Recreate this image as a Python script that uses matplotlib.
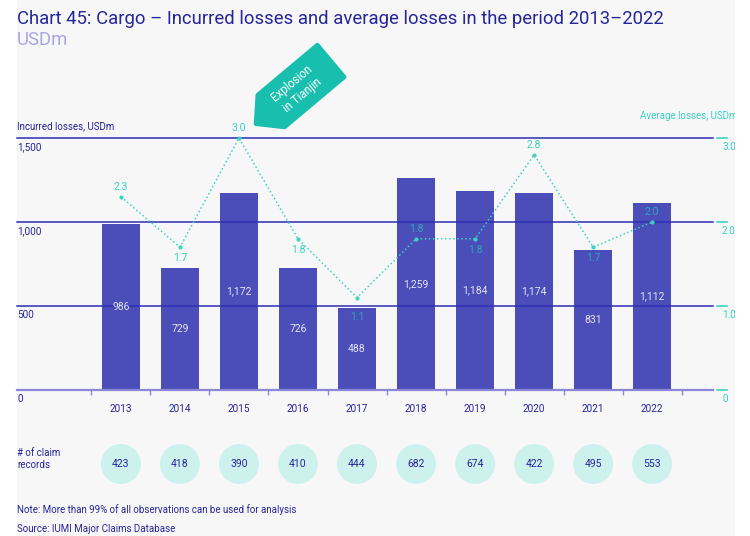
import numpy as np
import matplotlib
matplotlib.use('Agg')
import matplotlib.pyplot as plt
from matplotlib.patches import Polygon, Rectangle
from matplotlib.transforms import Affine2D, blended_transform_factory

plt.rcParams['font.family'] = ['Roboto', 'DejaVu Sans']

# data
years = ['2013', '2014', '2015', '2016', '2017', '2018', '2019', '2020', '2021', '2022']
incurred = [986, 729, 1172, 726, 488, 1259, 1184, 1174, 831, 1112]
avg_loss = [2.3, 1.7, 3.0, 1.8, 1.1, 1.8, 1.8, 2.8, 1.7, 2.0]
avg_above = [True, False, True, False, False, True, False, True, False, True]
claims = [423, 418, 390, 410, 444, 682, 674, 422, 495, 553]
left_ticks = [0, 500, 1000, 1500]
right_ticks = [0, 1, 2, 3]
right_labels = ['0', '1.0', '2.0', '3.0']

# colours
dark = '#25259A'
lav = '#A9A5E2'
bar_c = '#4B4DB8'
grid_c = '#2E2EB5'
base_c = '#8C88D8'
teal = '#3DD3C3'
teal_txt = '#3AD0BF'
teal_on_bar = '#2AAAB8'
tag_c = '#18BFAE'
circle_c = '#CDF2EE'
panel = '#F7F7F7'

W, H = 750, 536
fig = plt.figure(figsize=(W / 100, H / 100), dpi=100)
fig.patch.set_facecolor('white')
fig.add_artist(Rectangle((17 / W, 0), (735 - 17) / W, 1, transform=fig.transFigure,
                         facecolor=panel, edgecolor='none', zorder=-10))

x = np.arange(len(years))
xlim = (-1.76, 10.03)

ax = fig.add_axes([17 / W, 1 - 390 / H, 696 / W, 252 / H])
ax.set_facecolor('none')
for s in ax.spines.values():
    s.set_visible(False)
ax.set_xlim(*xlim)
ax.set_ylim(0, 1500)
ax.bar(x, incurred, width=0.64, color=bar_c, zorder=2)
for v in [500, 1000, 1500]:
    ax.axhline(v, color=grid_c, lw=1.1, zorder=3, clip_on=False)
ax.axhline(0, color=base_c, lw=1.6, zorder=3, clip_on=False)
for i, v in enumerate(incurred):
    ax.text(i, v / 2, f'{v:,}', ha='center', va='center', fontsize=7.5, color='#E4E4F4', zorder=4)

ax.set_xticks(x, years)
ax.set_xticks(np.arange(-0.5, len(years), 1), minor=True)
ax.tick_params(axis='x', which='major', length=0, pad=10, labelsize=7.2, labelcolor=dark)
ax.tick_params(axis='x', which='minor', length=3.5, width=1, color=base_c, direction='out')
ax.set_yticks([])
for v in left_ticks:
    ax.annotate(f'{v:,}', xy=(0, v), xycoords=('axes fraction', 'data'), xytext=(0, -6.5),
                textcoords='offset points', ha='left', va='center', fontsize=7.2, color=dark)

ax2 = ax.twinx()
ax2.set_facecolor('none')
for s in ax2.spines.values():
    s.set_visible(False)
ax2.set_ylim(0, 3)
ax2.set_yticks([])
ax2.plot(x, avg_loss, ls=':', lw=1.1, color=teal, marker='o', ms=2, clip_on=False, zorder=5)
px_per_unit = 252 / 3
for i, v in enumerate(avg_loss):
    if avg_above[i]:
        dy = 7.2
    elif v < 1.2:
        dy = -14
    else:
        dy = -8
    lab_val = v + dy / 0.72 / px_per_unit
    col = teal_on_bar if lab_val * 500 < incurred[i] else teal_txt
    ax2.annotate(f'{v:.1f}', xy=(i, v), xytext=(0, dy), textcoords='offset points',
                 ha='center', va='center', fontsize=7.5, color=col)
tr = blended_transform_factory(ax2.transAxes, ax2.transData)
for v, lab in zip(right_ticks, right_labels):
    ax2.plot([1.0057, 1.0201], [v, v], color=teal, lw=1.2, transform=tr, clip_on=False)
    ax2.annotate(lab, xy=(1, v), xycoords=('axes fraction', 'data'), xytext=(6.5, -6.5),
                 textcoords='offset points', ha='left', va='center', fontsize=7.2, color=teal_txt)

# claim-record circles
axc = fig.add_axes([17 / W, 1 - 489 / H, 696 / W, 50 / H])
axc.set_xlim(*xlim)
axc.set_ylim(0, 1)
axc.axis('off')
axc.scatter(x, [0.5] * len(x), s=830, color=circle_c, edgecolors='none')
for i, c in enumerate(claims):
    axc.text(i, 0.5, str(c), ha='center', va='center', fontsize=7.5, color=dark)

# texts
fig.text(17 / W, 1 - 19 / H, 'Chart 45: Cargo \u2013 Incurred losses and average losses in the period 2013\u20132022',
         fontsize=13.3, color=dark, va='center')
fig.text(17 / W, 1 - 40 / H, 'USDm', fontsize=13.3, color=lav, va='center')
fig.text(17 / W, 1 - 126 / H, 'Incurred losses, USDm', fontsize=7, color=dark, va='center')
fig.text(737 / W, 1 - 116 / H, 'Average losses, USDm', fontsize=7, color=teal_txt, va='center', ha='right')
fig.text(17 / W, 1 - 459 / H, '# of claim\nrecords', fontsize=7, color=dark, va='center', linespacing=1.3)
fig.text(17 / W, 1 - 510 / H, 'Note: More than 99% of all observations can be used for analysis',
         fontsize=7, color=dark, va='center')
fig.text(17 / W, 1 - 529 / H, 'Source: IUMI Major Claims Database', fontsize=7, color=dark, va='center')

# "Explosion in Tianjin" tag
L, T, w = 78, 20, 42
verts = [(-L / 2 - T, 0), (-L / 2, -w / 2), (L / 2, -w / 2), (L / 2, w / 2), (-L / 2, w / 2)]
tag = Polygon(verts, closed=True, facecolor=tag_c, edgecolor=tag_c, lw=3, joinstyle='round',
              transform=Affine2D().rotate_deg(40).translate(301, H - 86), zorder=6)
fig.add_artist(tag)
fig.text(297 / W, 1 - 89 / H, 'Explosion\nin Tianjin', rotation=40, rotation_mode='anchor',
         ha='center', va='center', color='white', fontsize=8.3, linespacing=1.3, zorder=7)

# white strip on the right clips the panel
fig.add_artist(Rectangle((735 / W, 0), 1, 1, transform=fig.transFigure,
                         facecolor='white', edgecolor='none', zorder=20))

fig.savefig('out.png', dpi=100)
